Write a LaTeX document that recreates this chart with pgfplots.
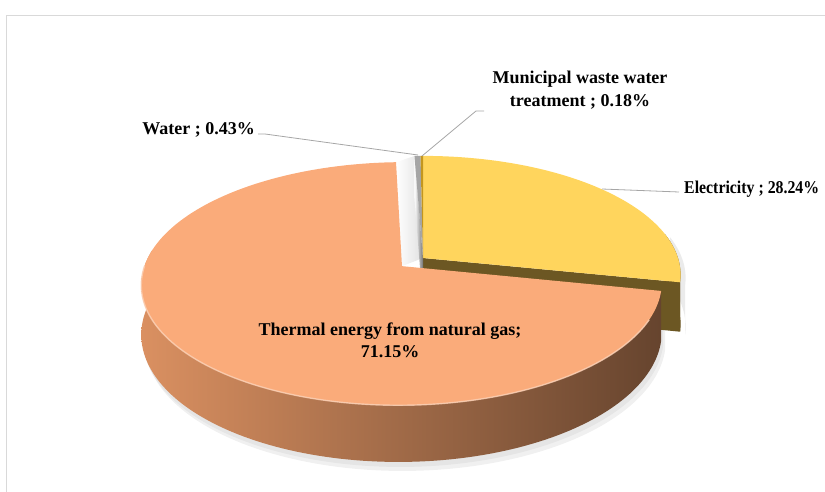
\documentclass[border=0pt]{standalone}
\usepackage{pgfplots}
\pgfplotsset{compat=1.18}
\usepackage{pgfplotstable}
\usepackage{fontspec}
\setmainfont{Liberation Serif}
\newfontfamily\condserif[FakeStretch=0.88]{Liberation Serif}
\definecolor{otop}{RGB}{250,171,122}
\definecolor{oside1}{RGB}{218,144,97}
\definecolor{oside2}{RGB}{102,68,46}
\definecolor{ytop}{RGB}{255,213,93}
\definecolor{yside}{RGB}{108,87,35}
\definecolor{wtop}{RGB}{165,165,165}
\definecolor{mtop}{RGB}{196,150,30}
\definecolor{leader}{RGB}{166,166,166}
\definecolor{framec}{RGB}{217,217,217}

\pgfplotstableread{
label value
Electricity 28.24
Thermal 71.15
Water 0.43
Municipal 0.18
}\piedata

% projection parameters (pixels)
\def\pcx{423}\def\pcy{233}\def\prx{255}\def\pry{116.7}\def\pk{0.143}\def\ph{48}

\newcommand\pieP[5]{%
  \pgfmathsetmacro\PPu{(#4)+(#2)*cos(#1)}%
  \pgfmathsetmacro\PPv{(#5)+(#2)*sin(#1)}%
  \pgfmathsetmacro\PPs{1/(1+\pk*\PPv)}%
  \pgfmathsetmacro\PPx{\pcx+\prx*\PPu*\PPs}%
  \pgfmathsetmacro\PPy{\pcy+\pry*\PPv*\PPs-\ph*(#3)*\PPs}%
}
\newcommand\startpt[5]{\pieP{#1}{#2}{#3}{#4}{#5}\xdef\pth{(axis cs:\PPx,\PPy)}}
\newcommand\addpt[5]{\pieP{#1}{#2}{#3}{#4}{#5}\xdef\pth{\pth -- (axis cs:\PPx,\PPy)}}
\newcommand\rimseg[6]{%
  \foreach \ii in {0,...,#6}{%
    \pgfmathsetmacro\angx{(#1)+((#2)-(#1))/#6*\ii}%
    \addpt{\angx}{1}{#3}{#4}{#5}%
  }%
}
\newcommand\lab{\fontsize{18}{24}\selectfont\bfseries}

\begin{document}
\begin{tikzpicture}
\pgfplotstablegetelem{0}{value}\of\piedata\edef\vE{\pgfplotsretval}
\pgfplotstablegetelem{1}{value}\of\piedata\edef\vT{\pgfplotsretval}
\pgfplotstablegetelem{2}{value}\of\piedata\edef\vW{\pgfplotsretval}
\pgfplotstablegetelem{3}{value}\of\piedata\edef\vM{\pgfplotsretval}
\pgfmathsetmacro\aA{90-3.6*\vE}
\pgfmathsetmacro\aB{\aA-3.6*\vT}
\pgfmathsetmacro\aC{\aB-3.6*\vW}
\pgfmathsetmacro\aAp{\aA+360}
\pgfmathsetmacro\aBp{\aB+360}
\pgfmathsetmacro\aCp{\aC+360}
\pgfmathsetmacro\amid{(\aA+\aB)/2}
\pgfmathsetmacro\ou{0.107*cos(\amid)}
\pgfmathsetmacro\ov{0.107*sin(\amid)}
% orange top
\startpt{0}{0}{0}{\ou}{\ov}\rimseg{\aBp}{\aAp}{0}{\ou}{\ov}{180}\global\let\pOT\pth
% orange side
\startpt{172}{1}{0}{\ou}{\ov}\rimseg{172}{\aAp}{0}{\ou}{\ov}{120}\rimseg{\aAp}{172}{1}{\ou}{\ov}{120}\global\let\pOS\pth
% orange highlight
\startpt{180}{1}{0}{\ou}{\ov}\rimseg{180}{335}{0}{\ou}{\ov}{100}\global\let\pOH\pth
% yellow top
\startpt{0}{0}{0}{0}{0}\rimseg{90}{\aA}{0}{0}{0}{80}\global\let\pYT\pth
% yellow radial face
\startpt{0}{0}{0}{0}{0}\addpt{\aA}{1}{0}{0}{0}\addpt{\aA}{1}{1}{0}{0}\addpt{0}{0}{1}{0}{0}\global\let\pYR\pth
% yellow outer side
\startpt{\aA}{1}{0}{0}{0}\rimseg{\aA}{12}{0}{0}{0}{20}\rimseg{12}{\aA}{1}{0}{0}{20}\global\let\pYS\pth
% water top
\startpt{0}{0}{0}{0}{0}\rimseg{\aBp}{\aCp}{0}{0}{0}{4}\global\let\pWT\pth
% water radial face
\startpt{0}{0}{0}{0}{0}\addpt{\aBp}{1}{0}{0}{0}\addpt{\aBp}{1}{1}{0}{0}\addpt{0}{0}{1}{0}{0}\global\let\pWR\pth
% municipal top
\startpt{0}{0}{0}{0}{0}\rimseg{\aCp}{90}{0}{0}{0}{4}\global\let\pMT\pth
% gap shading region (between exploded slice and the rest)
\startpt{0}{0}{0}{\ou}{\ov}\addpt{\aBp}{1}{0}{\ou}{\ov}\addpt{\aBp}{1}{0}{0}{0}\addpt{0}{0}{0}{0}{0}\global\let\pGP\pth

\begin{axis}[scale only axis, width=825pt, height=491pt,
  xmin=0, xmax=825, ymin=0, ymax=491, hide axis, clip=false]
\coordinate (SW) at (axis cs:0,0);
\coordinate (NE) at (axis cs:825,491);
\draw[framec, line width=0.8pt] (axis cs:6,-20) -- (axis cs:6,476) -- (axis cs:850,476);
\edef\tmp{%
  \noexpand\fill[black!6, xshift=4pt, yshift=-9pt] \pOS -- cycle;
  \noexpand\fill[black!10, xshift=2pt, yshift=-5pt] \pOS -- cycle;
  \noexpand\fill[black!8, xshift=5pt, yshift=-3pt] \pYS -- cycle;
  \noexpand\shade[left color=white, right color=black!12] \pGP -- cycle;
  \noexpand\fill[yside] \pYS -- cycle;
  \noexpand\fill[yside] \pYR -- cycle;
  \noexpand\fill[ytop] \pYT -- cycle;
  \noexpand\shade[left color=white, right color=black!55] \pWR -- cycle;
  \noexpand\fill[wtop] \pWT -- cycle;
  \noexpand\fill[mtop] \pMT -- cycle;
  \noexpand\shade[left color=oside1, right color=oside2] \pOS -- cycle;
  \noexpand\fill[otop] \pOT -- cycle;
  \noexpand\draw[line width=1.4pt, color=otop!55!white, opacity=0.8] \pOH;
}\tmp
\draw[leader, line width=0.8pt] (axis cs:258,357) -- (axis cs:265,357) -- (axis cs:418,336);
\draw[leader, line width=0.8pt] (axis cs:422,335) -- (axis cs:476,380) -- (axis cs:484,380);
\draw[leader, line width=0.8pt] (axis cs:602,302) -- (axis cs:679,299);
\node[anchor=base, inner sep=0pt, font=\lab] at (axis cs:580,407) {Municipal waste water};
\node[anchor=base, inner sep=0pt, font=\lab] at (axis cs:580,384) {treatment ; 0.18\%};
\node[anchor=base east, inner sep=0pt, font=\lab] at (axis cs:255,356) {Water ; 0.43\%};
\node[anchor=base west, inner sep=0pt, font=\lab\condserif] at (axis cs:684,298) {Electricity ; 28.24\%};
\node[anchor=base, inner sep=0pt, font=\lab] at (axis cs:390,156) {Thermal energy from natural gas;};
\node[anchor=base, inner sep=0pt, font=\lab] at (axis cs:390,134) {71.15\%};
\end{axis}
\pgfresetboundingbox
\useasboundingbox (SW) rectangle (NE);
\end{tikzpicture}
\end{document}
